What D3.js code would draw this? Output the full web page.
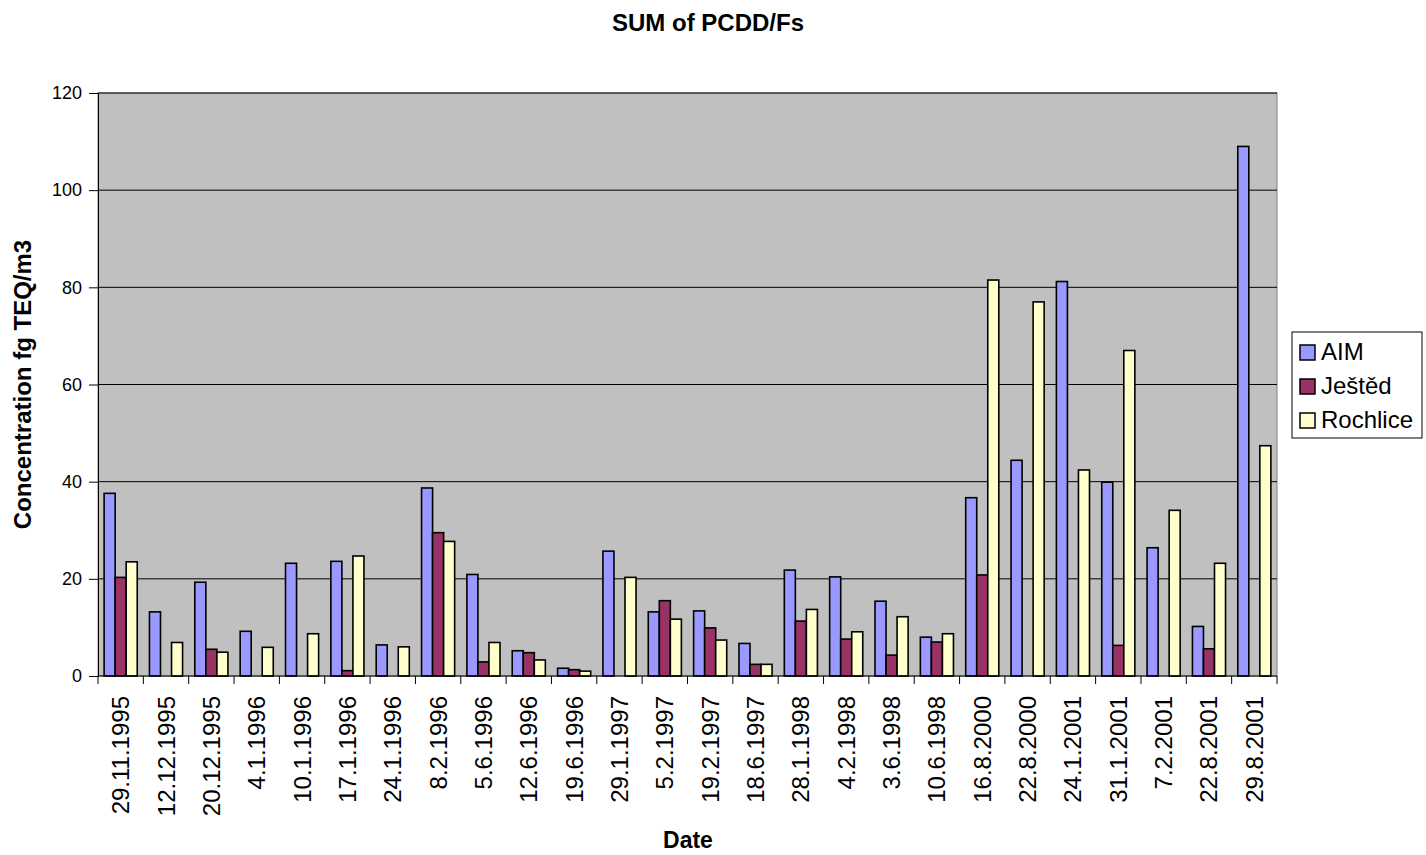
<!DOCTYPE html>
<html lang="en">
<head>
    <meta charset="UTF-8">
    <title>SUM of PCDD/Fs</title>
    <script src="https://d3js.org/d3.v7.min.js"></script>
    <style>
        body { margin: 0; background: #fff; }
        text { font-family: Arial, "Liberation Sans", sans-serif; fill: #000; }
        .bar { stroke: #000; stroke-width: 1.6px; }
        .grid line { stroke: #000; stroke-width: 1px; }
    </style>
</head>
<body>
    <svg width="1426" height="855"></svg>

    <script>
        // sampling dates
        const dates = ['29.11.1995', '12.12.1995', '20.12.1995', '4.1.1996', '10.1.1996', '17.1.1996',
            '24.1.1996', '8.2.1996', '5.6.1996', '12.6.1996', '19.6.1996', '29.1.1997', '5.2.1997',
            '19.2.1997', '18.6.1997', '28.1.1998', '4.2.1998', '3.6.1998', '10.6.1998', '16.8.2000',
            '22.8.2000', '24.1.2001', '31.1.2001', '7.2.2001', '22.8.2001', '29.8.2001'];

        const seriesNames = ['AIM', 'Ještěd', 'Rochlice'];
        const seriesColors = ['#9999FF', '#993366', '#FFFFCC'];

        // values (fg TEQ/m3), 0 = no bar
        const aim = [37.6, 13.2, 19.3, 9.2, 23.2, 23.6, 6.4, 38.7, 20.9, 5.2, 1.6, 25.7, 13.2,
            13.4, 6.7, 21.8, 20.4, 15.4, 8.0, 36.7, 44.4, 81.2, 39.9, 26.4, 10.2, 109.0];
        const jested = [20.3, 0, 5.5, 0, 0, 1.1, 0, 29.5, 2.9, 4.8, 1.3, 0, 15.5,
            9.9, 2.4, 11.3, 7.6, 4.3, 7.0, 20.8, 0, 0, 6.3, 0, 5.6, 0];
        const rochlice = [23.5, 6.9, 4.9, 5.9, 8.7, 24.7, 6.0, 27.7, 6.9, 3.3, 1.0, 20.3, 11.7,
            7.4, 2.4, 13.7, 9.1, 12.2, 8.7, 81.5, 77.0, 42.4, 67.0, 34.1, 23.2, 47.4];

        const yTicks = [0, 20, 40, 60, 80, 100, 120];

        const allSeries = [aim, jested, rochlice];

        const svg = d3.select('svg');
        const plot = { left: 98, top: 93, right: 1277, bottom: 676 };

        const x0 = d3.scaleBand()
            .domain(dates)
            .range([plot.left, plot.right])
            .paddingInner(0.27)
            .paddingOuter(0.135);

        const x1 = d3.scaleBand()
            .domain(d3.range(seriesNames.length))
            .range([0, x0.bandwidth()]);

        const y = d3.scaleLinear().domain([0, 120]).range([plot.bottom, plot.top]);

        // plot background
        svg.append('rect')
            .attr('x', plot.left).attr('y', plot.top)
            .attr('width', plot.right - plot.left).attr('height', plot.bottom - plot.top)
            .attr('fill', '#C0C0C0')
            .attr('stroke', '#808080').attr('stroke-width', 1);

        // gridlines
        svg.append('g').attr('class', 'grid')
            .selectAll('line')
            .data(yTicks.filter(d => d > 0))
            .enter().append('line')
            .attr('x1', plot.left).attr('x2', plot.right)
            .attr('y1', d => y(d)).attr('y2', d => y(d));

        // bars
        const groups = svg.append('g').selectAll('g')
            .data(dates)
            .enter().append('g')
            .attr('transform', d => `translate(${x0(d)},0)`);

        groups.selectAll('rect')
            .data((d, i) => allSeries.map((s, k) => ({ k: k, v: s[i] })).filter(e => e.v > 0))
            .enter().append('rect')
            .attr('class', 'bar')
            .attr('x', d => x1(d.k))
            .attr('width', x1.bandwidth())
            .attr('y', d => y(d.v))
            .attr('height', d => y(0) - y(d.v))
            .attr('fill', d => seriesColors[d.k]);

        // y axis
        const yAxis = svg.append('g')
            .attr('transform', `translate(${plot.left},0)`)
            .call(d3.axisLeft(y).tickValues(yTicks).tickSize(9).tickPadding(7));
        yAxis.select('.domain').attr('stroke', '#000');
        yAxis.selectAll('text').style('font-size', '18px').attr('font-family', null);

        // x axis: ticks at category boundaries
        const xAxis = svg.append('g')
            .attr('transform', `translate(0,${plot.bottom})`);
        xAxis.append('line')
            .attr('x1', plot.left).attr('x2', plot.right)
            .attr('stroke', '#000');
        const step = x0.step();
        xAxis.selectAll('.tk')
            .data(d3.range(dates.length + 1))
            .enter().append('line')
            .attr('x1', i => plot.left + i * step).attr('x2', i => plot.left + i * step)
            .attr('y1', 0).attr('y2', 8)
            .attr('stroke', '#000');
        xAxis.selectAll('.lbl')
            .data(dates)
            .enter().append('text')
            .attr('transform', d => `translate(${x0(d) + x0.bandwidth() / 2 + 8.5},20) rotate(-90)`)
            .attr('text-anchor', 'end')
            .style('font-size', '24px')
            .text(d => d);

        // titles
        svg.append('text')
            .attr('x', 708).attr('y', 31)
            .attr('text-anchor', 'middle')
            .style('font-size', '24px').style('font-weight', 'bold')
            .text('SUM of PCDD/Fs');

        svg.append('text')
            .attr('x', 688).attr('y', 848)
            .attr('text-anchor', 'middle')
            .style('font-size', '23px').style('font-weight', 'bold')
            .text('Date');

        svg.append('text')
            .attr('transform', `translate(31,${(plot.top + plot.bottom) / 2}) rotate(-90)`)
            .attr('text-anchor', 'middle')
            .style('font-size', '24px').style('font-weight', 'bold')
            .text('Concentration fg TEQ/m3');

        // legend
        const legend = svg.append('g');
        legend.append('rect')
            .attr('x', 1292).attr('y', 332)
            .attr('width', 130).attr('height', 106)
            .attr('fill', '#fff').attr('stroke', '#000');
        const items = legend.selectAll('.item')
            .data(seriesNames)
            .enter().append('g')
            .attr('transform', (d, i) => `translate(1300,${352 + i * 34})`);
        items.append('rect')
            .attr('x', 0).attr('y', -7)
            .attr('width', 15).attr('height', 15)
            .attr('fill', (d, i) => seriesColors[i])
            .attr('stroke', '#000').attr('stroke-width', 1.5);
        items.append('text')
            .attr('x', 21).attr('y', 8)
            .style('font-size', '24px')
            .text(d => d);
    </script>
</body>
</html>
